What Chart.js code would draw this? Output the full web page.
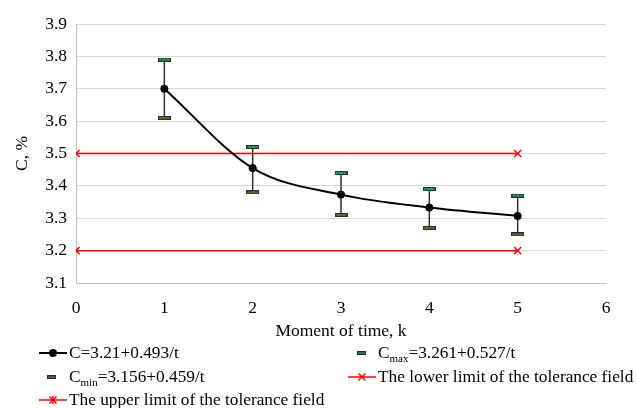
<!DOCTYPE html>
<html>
<head>
<meta charset="utf-8">
<script src="https://cdn.jsdelivr.net/npm/chart.js@4/dist/chart.umd.min.js"></script>
<style>
  html, body { margin: 0; padding: 0; background: #fff; }
  #wrap { position: relative; width: 636px; height: 408px; }
  canvas { position: absolute; left: 0; top: 0; }
  .lg { position: absolute; height: 18px; font-family: "Liberation Serif", "Times New Roman", serif; font-size: 17.3px; color: #000; white-space: nowrap; line-height: 18px; }
  .lg svg { position: absolute; top: 3px; }
  .lg span { position: absolute; top: 0; }
  .lg sub { font-size: 11px; vertical-align: -4px; line-height: 0; }
</style>
</head>
<body>
<div id="wrap">
  <canvas id="c" width="636" height="408"></canvas>
  <div class="lg" style="left:39px;top:344px;"><svg width="29" height="12"><line x1="0" y1="6" x2="28" y2="6" stroke="#000" stroke-width="2"/><circle cx="14" cy="6" r="4" fill="#000"/></svg><span style="left:30px">C=3.21+0.493/t</span></div>
  <div class="lg" style="left:357px;top:344px;"><svg width="10" height="12"><rect x="0.5" y="4.5" width="8" height="3" fill="#1f7a3a" stroke="#2b2b2b" stroke-width="1"/></svg><span style="left:21px">C<sub>max</sub>=3.261+0.527/t</span></div>
  <div class="lg" style="left:47px;top:368px;"><svg width="10" height="12"><rect x="0.5" y="4.5" width="8" height="3" fill="#4f6228" stroke="#2b2b2b" stroke-width="1"/></svg><span style="left:22px">C<sub>min</sub>=3.156+0.459/t</span></div>
  <div class="lg" style="left:348px;top:368px;"><svg width="29" height="12"><line x1="0" y1="6" x2="28" y2="6" stroke="#ff0000" stroke-width="1.5"/><line x1="10.5" y1="2.5" x2="17.5" y2="9.5" stroke="#ff0000" stroke-width="1.5"/><line x1="17.5" y1="2.5" x2="10.5" y2="9.5" stroke="#ff0000" stroke-width="1.5"/></svg><span style="left:30px">The lower limit of the tolerance field</span></div>
  <div class="lg" style="left:39px;top:391px;"><svg width="29" height="12"><line x1="0" y1="6" x2="28" y2="6" stroke="#ff0000" stroke-width="1.5"/><line x1="10.5" y1="2.5" x2="17.5" y2="9.5" stroke="#ff0000" stroke-width="1.5"/><line x1="17.5" y1="2.5" x2="10.5" y2="9.5" stroke="#ff0000" stroke-width="1.5"/><line x1="14" y1="2" x2="14" y2="10" stroke="#ff0000" stroke-width="1.5"/></svg><span style="left:30px">The upper limit of the tolerance field</span></div>
</div>
<script>
// ---- data ----
const timeMoments = [1, 2, 3, 4, 5];
const cValues    = [3.70, 3.455, 3.373, 3.333, 3.307];
const cMaxValues = [3.79, 3.52, 3.44, 3.39, 3.37];
const cMinValues = [3.61, 3.38, 3.31, 3.27, 3.25];
const limitX = [0, 5];
const lowerLimit = 3.2;
const upperLimit = 3.5;
const xTicks = [0, 1, 2, 3, 4, 5, 6];
const yTicks = [3.1, 3.2, 3.3, 3.4, 3.5, 3.6, 3.7, 3.8, 3.9];

function pts(xs, ys) { return xs.map((x, i) => ({ x: x, y: Array.isArray(ys) ? ys[i] : ys })); }

function dashMarker(fill) {
  const cv = document.createElement('canvas');
  cv.width = 13; cv.height = 4;
  const g = cv.getContext('2d');
  g.fillStyle = '#2b2b2b';
  g.fillRect(0, 0, 13, 4);
  g.fillStyle = fill;
  g.fillRect(1, 1, 11, 2);
  return cv;
}
const maxMarker = dashMarker('#1f9e48');
const minMarker = dashMarker('#56702a');

const errorBars = {
  id: 'errorBars',
  beforeDatasetsDraw(chart) {
    const { ctx, scales: { x, y } } = chart;
    ctx.save();
    ctx.strokeStyle = '#333333';
    ctx.lineWidth = 1.5;
    timeMoments.forEach((t, i) => {
      const px = x.getPixelForValue(t);
      ctx.beginPath();
      ctx.moveTo(px, y.getPixelForValue(cMaxValues[i]));
      ctx.lineTo(px, y.getPixelForValue(cMinValues[i]));
      ctx.stroke();
    });
    ctx.restore();
  }
};

const serif = '"Liberation Serif", "Times New Roman", serif';
const fs = 17.5;

new Chart(document.getElementById('c'), {
  type: 'scatter',
  data: {
    datasets: [
      { label: 'upper', data: pts(limitX, upperLimit), showLine: true, borderColor: '#ff0000', borderWidth: 1.5,
        pointStyle: 'crossRot', pointRadius: 5, pointBorderColor: '#ff0000', pointBorderWidth: 1.5, order: 3 },
      { label: 'lower', data: pts(limitX, lowerLimit), showLine: true, borderColor: '#ff0000', borderWidth: 1.5,
        pointStyle: 'crossRot', pointRadius: 5, pointBorderColor: '#ff0000', pointBorderWidth: 1.5, order: 3 },
      { label: 'C', data: pts(timeMoments, cValues), showLine: true, borderColor: '#000', borderWidth: 2,
        cubicInterpolationMode: 'monotone', pointStyle: 'circle', pointRadius: 3.6, pointBorderWidth: 1,
        pointBackgroundColor: '#000', pointBorderColor: '#000', order: 2 },
      { label: 'Cmax', data: pts(timeMoments, cMaxValues), showLine: false, pointStyle: maxMarker, order: 1 },
      { label: 'Cmin', data: pts(timeMoments, cMinValues), showLine: false, pointStyle: minMarker, order: 1 }
    ]
  },
  options: {
    responsive: false,
    animation: false,
    events: [],
    layout: { padding: { left: 0, right: 30, top: 24, bottom: 60 } },
    plugins: { legend: { display: false }, tooltip: { enabled: false } },
    scales: {
      x: {
        type: 'linear', min: xTicks[0], max: xTicks[xTicks.length - 1],
        afterBuildTicks(s) { s.ticks = xTicks.map(v => ({ value: v })); },
        afterFit(s) { s.height = 65; },
        grid: { display: false },
        border: { color: '#bfbfbf', width: 1 },
        ticks: { color: '#000', font: { family: serif, size: fs }, padding: 7 },
        title: { display: true, text: 'Moment of time, k', color: '#000', font: { family: serif, size: fs }, padding: { top: 0, bottom: 6 } }
      },
      y: {
        min: yTicks[0], max: yTicks[yTicks.length - 1],
        afterBuildTicks(s) { s.ticks = yTicks.map(v => ({ value: v })); },
        afterFit(s) { s.width = 76; },
        grid: { color: '#d9d9d9', drawTicks: false },
        border: { color: '#bfbfbf', width: 1 },
        ticks: { color: '#000', font: { family: serif, size: fs }, padding: 9, callback: v => v.toFixed(1) },
        title: { display: true, text: 'C, %', color: '#000', font: { family: serif, size: fs }, padding: { top: 12, bottom: 0 } }
      }
    }
  },
  plugins: [errorBars]
});
</script>
</body>
</html>
